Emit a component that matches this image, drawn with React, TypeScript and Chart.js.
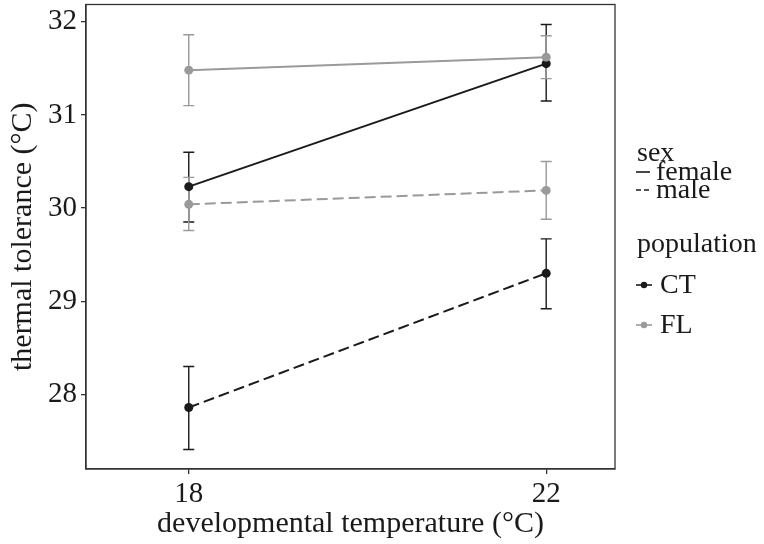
import { useEffect, useRef } from 'react';
import { Chart, registerables } from 'chart.js';
Chart.register(...registerables);

const temperatures = [18, 22];
const ctFemale = [30.23, 31.55];
const ctFemaleLow = [29.85, 31.15];
const ctFemaleHigh = [30.60, 31.97];
const ctMale = [27.86, 29.3];
const ctMaleLow = [27.41, 28.92];
const ctMaleHigh = [28.3, 29.67];
const flFemale = [31.48, 31.62];
const flFemaleLow = [31.1, 31.39];
const flFemaleHigh = [31.86, 31.85];
const flMale = [30.04, 30.19];
const flMaleLow = [29.76, 29.88];
const flMaleHigh = [30.33, 30.5];
const yTicks = [28, 29, 30, 31, 32];
const xTicks = [18, 22];

const BLACK = '#1a1a1a';
const GREY = '#9a9a9a';
const FONT = '"Liberation Serif", "Times New Roman", serif';
const TEXT = '#1a1a1a';

const toPts = (vals: number[]) => temperatures.map((t, i) => ({ x: t, y: vals[i] }));

const errorSeries = [
  { color: BLACK, low: ctMaleLow, high: ctMaleHigh },
  { color: BLACK, low: ctFemaleLow, high: ctFemaleHigh },
  { color: GREY, low: flMaleLow, high: flMaleHigh },
  { color: GREY, low: flFemaleLow, high: flFemaleHigh },
];

const errorBarPlugin = {
  id: 'errorBars',
  beforeDatasetsDraw(chart: any) {
    const { ctx, scales } = chart;
    const xs = scales.x, ys = scales.y;
    ctx.save();
    ctx.lineWidth = 1.4;
    for (const s of errorSeries) {
      ctx.strokeStyle = s.color;
      temperatures.forEach((t, i) => {
        const px = xs.getPixelForValue(t);
        const y1 = ys.getPixelForValue(s.low[i]);
        const y2 = ys.getPixelForValue(s.high[i]);
        ctx.beginPath();
        ctx.moveTo(px, y1); ctx.lineTo(px, y2);
        ctx.moveTo(px - 5.5, y1); ctx.lineTo(px + 5.5, y1);
        ctx.moveTo(px - 5.5, y2); ctx.lineTo(px + 5.5, y2);
        ctx.stroke();
      });
    }
    ctx.restore();
  },
};

const frameAndLegendPlugin = {
  id: 'frameLegend',
  afterDraw(chart: any) {
    const { ctx, chartArea } = chart;
    ctx.save();
    ctx.strokeStyle = '#333';
    ctx.lineWidth = 1.3;
    ctx.strokeRect(chartArea.left, chartArea.top, chartArea.right - chartArea.left, chartArea.bottom - chartArea.top);

    const lx = 637;
    ctx.fillStyle = TEXT;
    ctx.textBaseline = 'middle';
    ctx.textAlign = 'left';
    ctx.font = `28px ${FONT}`;
    ctx.fillText('sex', lx, 154);
    ctx.strokeStyle = BLACK;
    ctx.lineWidth = 1.6;
    ctx.beginPath(); ctx.moveTo(636, 172); ctx.lineTo(650, 172); ctx.stroke();
    ctx.setLineDash([5, 3]);
    ctx.beginPath(); ctx.moveTo(636, 190); ctx.lineTo(651, 190); ctx.stroke();
    ctx.setLineDash([]);
    ctx.fillText('female', 656, 173);
    ctx.fillText('male', 656, 191);
    ctx.fillText('population', lx, 245);
    const keys = [
      { label: 'CT', color: BLACK, y: 285 },
      { label: 'FL', color: GREY, y: 325 },
    ];
    for (const k of keys) {
      ctx.strokeStyle = k.color;
      ctx.fillStyle = k.color;
      ctx.lineWidth = 1.6;
      ctx.beginPath(); ctx.moveTo(636, k.y); ctx.lineTo(652, k.y); ctx.stroke();
      ctx.beginPath(); ctx.arc(644, k.y, 3.2, 0, Math.PI * 2); ctx.fill();
      ctx.fillStyle = TEXT;
      ctx.fillText(k.label, 660, k.y + 1);
    }
    ctx.restore();
  },
};

export default function App() {
  const ref = useRef<HTMLCanvasElement>(null);
  useEffect(() => {
    if (!ref.current) return;
    const line = (label: string, vals: number[], color: string, dashed: boolean) => ({
      label,
      data: toPts(vals),
      borderColor: color,
      backgroundColor: color,
      borderWidth: 2,
      borderDash: dashed ? [11, 5] : [],
      pointRadius: 4.5,
      pointBorderWidth: 0,
      pointBackgroundColor: color,
      showLine: true,
      clip: false as any,
    });
    const chart = new Chart(ref.current, {
      type: 'scatter',
      data: {
        datasets: [
          line('FL female', flFemale, GREY, false),
          line('FL male', flMale, GREY, true),
          line('CT female', ctFemale, BLACK, false),
          line('CT male', ctMale, BLACK, true),
        ],
      },
      options: {
        responsive: false,
        animation: false,
        layout: { padding: { top: 2, right: 149, left: 0, bottom: 0 } },
        plugins: { legend: { display: false }, tooltip: { enabled: false } },
        scales: {
          x: {
            type: 'linear',
            min: 16.85,
            max: 22.77,
            afterBuildTicks: (s: any) => { s.ticks = xTicks.map((v) => ({ value: v })); },
            afterFit: (s: any) => { s.height = 75; s.paddingLeft = 0; s.paddingRight = 0; },
            grid: { drawOnChartArea: false, tickLength: 5, color: '#333', lineWidth: 1.3 },
            border: { display: true, color: '#333', width: 1.3 },
            ticks: { font: { family: FONT, size: 29 }, color: TEXT, padding: 3, maxRotation: 0, autoSkip: false },
            title: { display: true, text: 'developmental temperature (°C)', font: { family: FONT, size: 30 }, color: TEXT, padding: { top: 0, bottom: 2 } },
          },
          y: {
            type: 'linear',
            min: 27.2,
            max: 32.185,
            afterBuildTicks: (s: any) => { s.ticks = yTicks.map((v) => ({ value: v })); },
            afterFit: (s: any) => { s.width = 86; s.paddingTop = 0; s.paddingBottom = 0; },
            grid: { drawOnChartArea: false, tickLength: 5, color: '#333', lineWidth: 1.3 },
            border: { display: true, color: '#333', width: 1.3 },
            ticks: { font: { family: FONT, size: 29 }, color: TEXT, padding: 4, autoSkip: false },
            title: { display: true, text: 'thermal tolerance (°C)', font: { family: FONT, size: 30 }, color: TEXT, padding: { top: 5, bottom: 0 } },
          },
        },
      },
      plugins: [errorBarPlugin, frameAndLegendPlugin],
    });
    return () => chart.destroy();
  }, []);
  return (
    <div style={{ position: 'fixed', left: 0, top: 0, width: 764, height: 544, background: '#fff' }}>
      <canvas ref={ref} width={764} height={544} style={{ display: 'block' }} />
    </div>
  );
}
